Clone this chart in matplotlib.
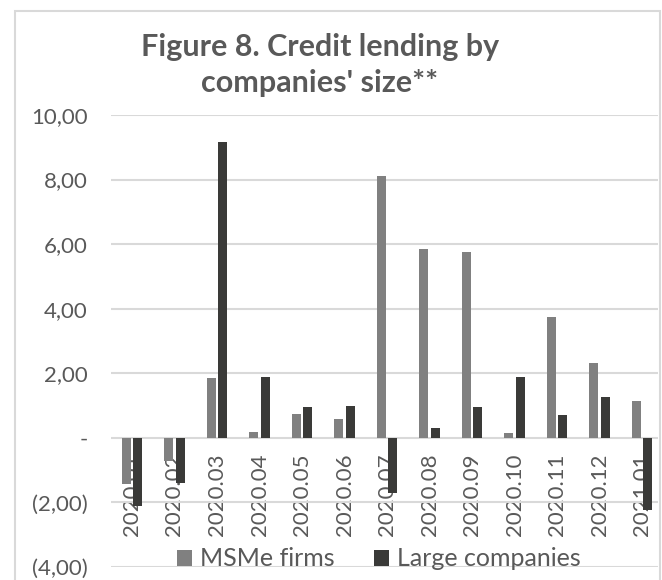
import matplotlib
matplotlib.use("Agg")
import matplotlib.pyplot as plt
import numpy as np
from matplotlib.patches import Rectangle

plt.rcParams["font.family"] = ["Lato", "DejaVu Sans"]

months = ["2020.01", "2020.02", "2020.03", "2020.04", "2020.05", "2020.06", "2020.07",
          "2020.08", "2020.09", "2020.10", "2020.11", "2020.12", "2021.01"]
msme = [-1.43, -0.71, 1.86, 0.19, 0.74, 0.58, 8.11, 5.84, 5.75, 0.15, 3.73, 2.33, 1.15]
large = [-2.11, -1.40, 9.16, 1.89, 0.95, 1.00, -1.71, 0.30, 0.95, 1.89, 0.70, 1.27, -2.23]
yticks = [-4, -2, 0, 2, 4, 6, 8, 10]
ytick_labels = ["(4,00)", "(2,00)", "-", "2,00", "4,00", "6,00", "8,00", "10,00"]

TXT = "#595959"
GRID = "#d9d9d9"
W, H = 662, 580

fig = plt.figure(figsize=(W / 100, H / 100), dpi=100)
# chart area border
fig.patches.append(Rectangle((15 / W, -0.05), 645 / W, 1.05 - 11 / H, transform=fig.transFigure,
                             fill=False, edgecolor=GRID, lw=1.5))

ax = fig.add_axes([111 / W, 1 - 567 / H, 547 / W, (567 - 115) / H])
x = np.arange(len(months))
ax.bar(x - 0.135, msme, width=0.22, color="#808080", label="MSMe firms", zorder=3)
ax.bar(x + 0.135, large, width=0.22, color="#3a3a38", label="Large companies", zorder=3)

ax.set_ylim(-4, 10)
ax.set_xlim(-0.494, 12.376)
ax.set_yticks(yticks)
ax.set_yticklabels(ytick_labels)
ax.grid(axis="y", color=GRID, lw=1.5, zorder=0)
ax.set_axisbelow(True)
for s in ("top", "right", "left"):
    ax.spines[s].set_visible(False)
ax.spines["bottom"].set_position(("data", 0))
ax.spines["bottom"].set_visible(False)
ax.set_xticks(x)
ax.set_xticklabels(months, rotation=90, va="top")
ax.tick_params(axis="x", length=0, pad=11, labelsize=16, labelcolor=TXT)
ax.tick_params(axis="y", length=0, pad=17, labelsize=16, labelcolor=TXT)

fig.text(320 / W, 1 - 65 / H, "Figure 8. Credit lending by\ncompanies' size**", ha="center",
         va="center", fontsize=22, fontweight="bold", color=TXT, linespacing=1.32)

ax.legend(loc="center", bbox_to_anchor=(379 / W, 1 - 559 / H), bbox_transform=fig.transFigure,
          ncol=2, frameon=False, fontsize=18, labelcolor=TXT, handlelength=0.6,
          handleheight=0.6, handletextpad=0.3, columnspacing=1.6, borderpad=0)

fig.savefig("out.png", dpi=100)
